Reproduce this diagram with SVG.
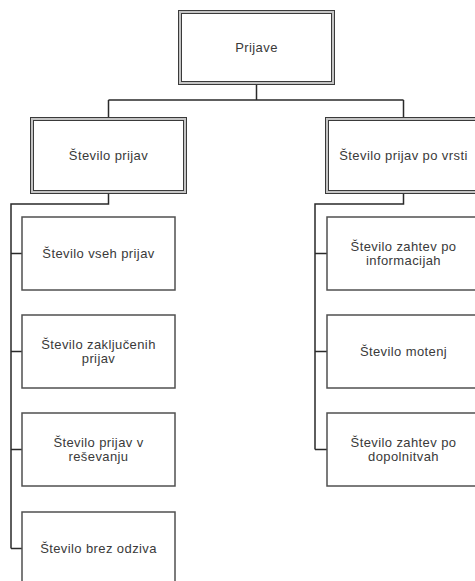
<svg xmlns="http://www.w3.org/2000/svg" width="475" height="581" viewBox="0 0 475 581">
  <style>
    .bg { fill: #ffffff; }
    .dbl-outer { fill: #ffffff; stroke: #3a3a3a; stroke-width: 4; }
    .dbl-inner { fill: none; stroke: #c4c4c4; stroke-width: 2; }
    .box { fill: #ffffff; stroke: #505050; stroke-width: 1.5; }
    .conn { fill: none; stroke: #2a2a2a; stroke-width: 1.5; }
    .lbl { font-family: "Liberation Sans", Arial, sans-serif; font-size: 13px; letter-spacing: 0.4px; fill: #3a3a3a; text-anchor: middle; }
  </style>
  <rect class="bg" x="0" y="0" width="475" height="581"/>

  <!-- connectors -->
  <g id="connectors">
    <path class="conn" d="M256.5 83 V100 M108.5 100 H403.5 M108.5 100 V119 M403.5 100 V119"/>
    <path class="conn" d="M108.5 192 V204 H11 V548.5 M11 253.5 H22 M11 351.5 H22 M11 449.5 H22 M11 548.5 H22"/>
    <path class="conn" d="M403.5 192 V204 H315 V449.5 M315 253.5 H327 M315 351.5 H327 M315 449.5 H327"/>
  </g>

  <!-- root -->
  <g id="prijave">
    <rect class="dbl-outer" x="180" y="12" width="153" height="71"/>
    <rect class="dbl-inner" x="180" y="12" width="153" height="71"/>
    <text class="lbl" x="256.5" y="52">Prijave</text>
  </g>

  <!-- second level -->
  <g id="stevilo-prijav">
    <rect class="dbl-outer" x="32" y="119" width="153" height="73"/>
    <rect class="dbl-inner" x="32" y="119" width="153" height="73"/>
    <text class="lbl" x="108.5" y="160">Število prijav</text>
  </g>
  <g id="stevilo-prijav-po-vrsti">
    <rect class="dbl-outer" x="327" y="119" width="153" height="73"/>
    <rect class="dbl-inner" x="327" y="119" width="153" height="73"/>
    <text class="lbl" x="403.5" y="160">Število prijav po vrsti</text>
  </g>

  <!-- left column -->
  <g id="vseh-prijav">
    <rect class="box" x="22" y="217" width="153" height="73"/>
    <text class="lbl" x="98.5" y="258">Število vseh prijav</text>
  </g>
  <g id="zakljucenih-prijav">
    <rect class="box" x="22" y="315" width="153" height="73"/>
    <text class="lbl" x="98.5" y="349">Število zaključenih</text>
    <text class="lbl" x="98.5" y="363">prijav</text>
  </g>
  <g id="prijav-v-resevanju">
    <rect class="box" x="22" y="413" width="153" height="73"/>
    <text class="lbl" x="98.5" y="447">Število prijav v</text>
    <text class="lbl" x="98.5" y="461">reševanju</text>
  </g>
  <g id="brez-odziva">
    <rect class="box" x="22" y="512" width="153" height="73"/>
    <text class="lbl" x="98.5" y="553">Število brez odziva</text>
  </g>

  <!-- right column -->
  <g id="zahtev-po-informacijah">
    <rect class="box" x="327" y="217" width="153" height="73"/>
    <text class="lbl" x="403.5" y="251">Število zahtev po</text>
    <text class="lbl" x="403.5" y="265">informacijah</text>
  </g>
  <g id="motenj">
    <rect class="box" x="327" y="315" width="153" height="73"/>
    <text class="lbl" x="403.5" y="356">Število motenj</text>
  </g>
  <g id="zahtev-po-dopolnitvah">
    <rect class="box" x="327" y="413" width="153" height="73"/>
    <text class="lbl" x="403.5" y="447">Število zahtev po</text>
    <text class="lbl" x="403.5" y="461">dopolnitvah</text>
  </g>
</svg>
